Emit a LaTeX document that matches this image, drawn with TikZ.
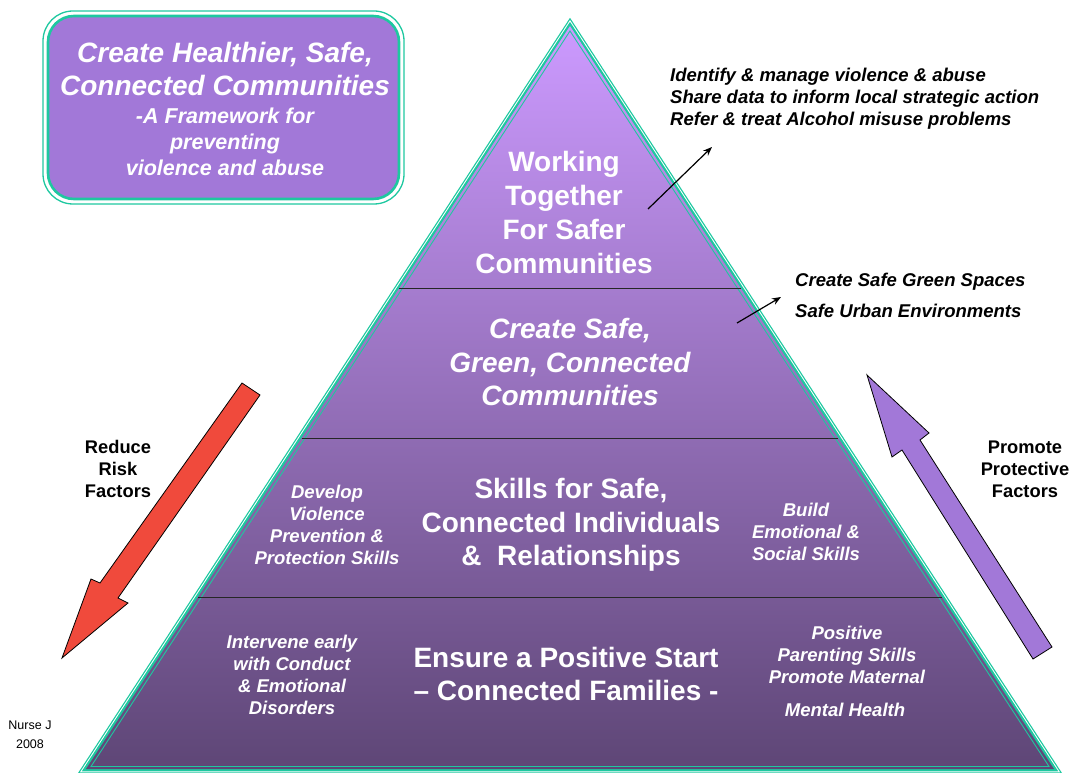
\documentclass[tikz,border=0pt]{standalone}
\usepackage{fontspec}
\setmainfont{Liberation Sans}
\usetikzlibrary{arrows.meta}
\definecolor{teal2}{RGB}{30,200,160}
\definecolor{boxpurple}{RGB}{162,120,216}
\definecolor{redarrow}{RGB}{240,74,60}
\definecolor{uparrow}{RGB}{162,120,216}
\definecolor{toppurple}{RGB}{204,154,255}
\definecolor{midpurple}{RGB}{163,122,208}
\definecolor{botpurple}{RGB}{94,70,118}
\begin{document}
\begin{tikzpicture}[x=1pt,y=-1pt,
  bigw/.style={text=white, inner sep=0, align=center, font=\bfseries\fontsize{28}{33.7}\selectfont},
  bigwi/.style={bigw, font=\bfseries\itshape\fontsize{28}{33.7}\selectfont},
  smallwi/.style={text=white, inner sep=0, align=center, font=\bfseries\itshape\fontsize{18.5}{22}\selectfont},
  sidelabel/.style={text=black, inner sep=0, align=center, font=\bfseries\fontsize{18.3}{22}\selectfont},
  notetext/.style={text=black, inner sep=0, align=left, font=\bfseries\itshape\fontsize{18.5}{22}\selectfont},
  divider/.style={draw=black!85, line width=1},
  blockarrow/.style={draw=black, line width=0.8, line join=miter},
  pointer/.style={draw=black, line width=1.2, -{Stealth[length=9pt,width=7pt]}}
]
\useasboundingbox (0,0) rectangle (1072,773);
\clip (0,0) rectangle (1072,773);

% ---------- pyramid ----------
\coordinate (apex) at (570,26);
\coordinate (bl) at (86,769);
\coordinate (br) at (1054,769);
\draw[teal2, line width=9, line join=miter] (apex)--(bl)--(br)--cycle;
\draw[white, line width=6.5, line join=miter] (apex)--(bl)--(br)--cycle;
\draw[teal2, line width=4.5, line join=miter] (apex)--(bl)--(br)--cycle;
\shade[top color=toppurple, middle color=midpurple, bottom color=botpurple] (apex)--(bl)--(br)--cycle;
\draw[teal2, line width=0.9, line join=miter] (570,31)--(91,766.5)--(1049,766.5)--cycle;

% dividers
\coordinate (d1l) at (399.3,288); \coordinate (d1r) at (740.7,288);
\coordinate (d2l) at (301.6,438); \coordinate (d2r) at (838.4,438);
\coordinate (d3l) at (198.0,597); \coordinate (d3r) at (942.0,597);
\draw[divider] (d1l)--(d1r);
\draw[divider] (d2l)--(d2r);
\draw[divider] (d3l)--(d3r);

% tier texts
\node[bigw] (t1) at (564,212.5) {Working\\Together\\For Safer\\Communities};
\node[bigwi] (t2) at (570,362) {Create Safe,\\Green, Connected\\Communities};
\node[bigw] (t3) at (571,525) {Skills for Safe,\\Connected Individuals\\\&\ \ Relationships};
\node[bigw] (t4) at (566,674) {Ensure a Positive Start\\– Connected Families -};

\node[smallwi] (s3l) at (327,525) {Develop\\Violence\\Prevention \&\\Protection Skills};
\node[smallwi] (s3r) at (806,531.5) {Build\\Emotional \&\\Social Skills};
\node[smallwi] (s4l) at (292,675) {Intervene early\\with Conduct\\\& Emotional\\Disorders};
\node[smallwi] (s4r) at (847,655) {Positive\\Parenting Skills\\Promote Maternal};
\node[smallwi] (s4r2) at (845,710) {Mental Health};

% ---------- title box ----------
\draw[teal2, line width=1.3, rounded corners=30] (43,11) rectangle (404,204);
\draw[teal2, line width=2.6, fill=boxpurple, rounded corners=26] (48,16) rectangle (399,199);
\node[bigwi] (title) at (225,69) {Create Healthier, Safe,\\Connected Communities};
\node[text=white, inner sep=0, align=center, font=\bfseries\itshape\fontsize{21.5}{26}\selectfont] (subtitle) at (225,142) {-A Framework for\\preventing\\violence and abuse};

% ---------- block arrows ----------
\filldraw[fill=redarrow, blockarrow] (242,383)--(260,395)--(118,598)--(128,603)--(62,658)--(91,579)--(100,583)--cycle;
\filldraw[fill=uparrow, blockarrow] (867,375)--(892,457)--(902,450)--(1033,659)--(1052,647)--(920,440)--(929,433)--cycle;

\node[sidelabel] (risk) at (118,469) {Reduce\\Risk\\Factors};
\node[sidelabel] (protect) at (1025,469) {Promote\\Protective\\Factors};

% ---------- notes ----------
\node[notetext, anchor=west] (n1) at (670,99) {Identify \& manage violence \& abuse\\Share data to inform local strategic action\\Refer \& treat Alcohol misuse problems};
\node[notetext, anchor=west, font=\bfseries\itshape\fontsize{18.5}{31}\selectfont] (n2) at (795,295.5) {Create Safe Green Spaces\\Safe Urban Environments};

\coordinate (p1s) at (648,209); \coordinate (p1e) at (712,147);
\coordinate (p2s) at (737,323); \coordinate (p2e) at (781,297);
\draw[pointer] (p1s)--(p1e);
\draw[pointer] (p2s)--(p2e);

\node[text=black, inner sep=0, align=center, font=\fontsize{12.5}{19}\selectfont] (author) at (30,734.5) {Nurse J\\2008};
\end{tikzpicture}
\end{document}
